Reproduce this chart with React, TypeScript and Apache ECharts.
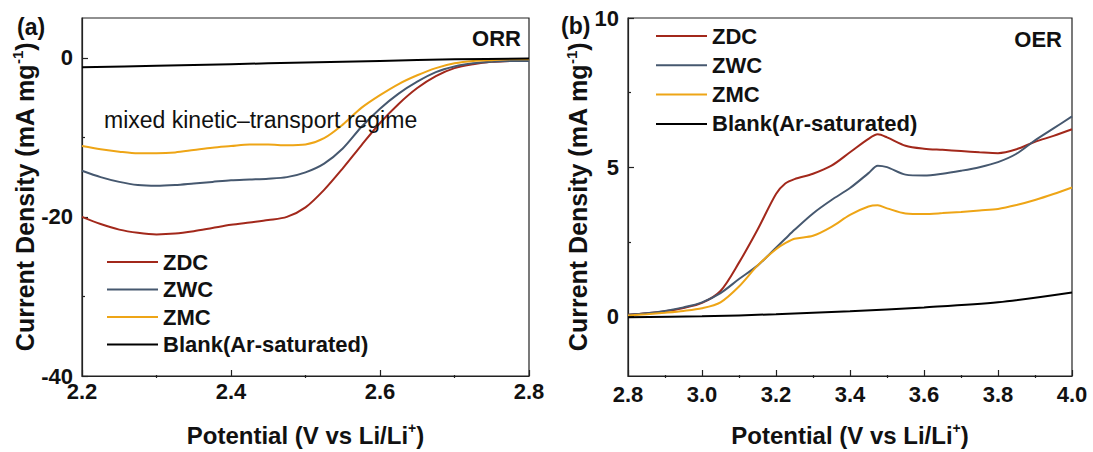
import React, { useEffect, useRef } from "react";
import * as echarts from "echarts";

// ---------- ORR panel (a) ----------
const orrPotential = [2.2, 2.225, 2.25, 2.275, 2.3, 2.325, 2.35, 2.375, 2.4, 2.425, 2.45, 2.475, 2.5, 2.525, 2.55, 2.575, 2.6, 2.625, 2.65, 2.675, 2.7, 2.725, 2.75, 2.775, 2.8];
const orrZDC = [-20.0, -20.9, -21.6, -22.0, -22.2, -22.1, -21.8, -21.4, -21.0, -20.7, -20.4, -20.0, -18.8, -16.6, -13.9, -11.0, -8.2, -5.8, -3.8, -2.3, -1.3, -0.8, -0.5, -0.4, -0.3];
const orrZWC = [-14.2, -15.0, -15.6, -16.0, -16.1, -16.0, -15.8, -15.6, -15.4, -15.3, -15.2, -15.0, -14.4, -13.3, -11.4, -8.7, -6.4, -4.5, -3.0, -1.8, -1.1, -0.7, -0.5, -0.4, -0.4];
const orrZMC = [-11.1, -11.5, -11.8, -12.0, -12.0, -11.9, -11.6, -11.3, -11.1, -10.9, -10.9, -11.0, -10.9, -10.1, -8.4, -6.3, -4.7, -3.3, -2.2, -1.3, -0.7, -0.4, -0.3, -0.2, -0.2];
const orrBlankPotential = [2.2, 2.3, 2.4, 2.5, 2.6, 2.7, 2.8];
const orrBlank = [-1.2, -1.0, -0.8, -0.6, -0.4, -0.2, -0.1];

const orrXLabels = [2.2, 2.4, 2.6, 2.8];
const orrXMinor = [2.3, 2.5, 2.7];
const orrYLabels = [-40, -20, 0];
const orrYMinor = [-30, -10];

// ---------- OER panel (b) ----------
const oerPotential = [2.8, 2.85, 2.9, 2.95, 3.0, 3.05, 3.1, 3.15, 3.2, 3.225, 3.25, 3.3, 3.35, 3.4, 3.45, 3.475, 3.5, 3.55, 3.6, 3.65, 3.7, 3.75, 3.8, 3.85, 3.9, 3.95, 4.0];
const oerZDC = [0.05, 0.1, 0.17, 0.28, 0.45, 0.85, 1.8, 2.9, 4.1, 4.45, 4.6, 4.78, 5.05, 5.5, 5.95, 6.1, 6.0, 5.72, 5.62, 5.58, 5.54, 5.5, 5.47, 5.6, 5.85, 6.05, 6.27];
const oerZWC = [0.05, 0.1, 0.18, 0.3, 0.47, 0.78, 1.25, 1.7, 2.3, 2.6, 2.9, 3.45, 3.9, 4.3, 4.8, 5.05, 5.0, 4.75, 4.72, 4.78, 4.88, 5.0, 5.17, 5.45, 5.9, 6.3, 6.7];
const oerZMC = [0.03, 0.07, 0.12, 0.18, 0.27, 0.47, 1.0, 1.7, 2.25, 2.45, 2.6, 2.7, 3.0, 3.4, 3.68, 3.72, 3.62, 3.45, 3.43, 3.46, 3.5, 3.55, 3.6, 3.73, 3.9, 4.1, 4.32];
const oerBlankPotential = [2.8, 3.0, 3.2, 3.4, 3.6, 3.8, 4.0];
const oerBlank = [-0.03, 0.0, 0.07, 0.17, 0.3, 0.47, 0.8];

const oerXLabels = [2.8, 3.0, 3.2, 3.4, 3.6, 3.8, 4.0];
const oerXMinor = [2.9, 3.1, 3.3, 3.5, 3.7, 3.9];
const oerYLabels = [0, 5, 10];
const oerYMinor = [2.5, 7.5];

const seriesNames = ["ZDC", "ZWC", "ZMC", "Blank(Ar-saturated)"];
const seriesColors = ["#A2281B", "#46586F", "#EEA516", "#000000"];

const FONT = "'Liberation Sans', Arial, Helvetica, sans-serif";
const INK = "#111111";
const AXIS = "#222222";

const GRID_H = 360;
const GRID_A_W = 447;
const GRID_B_W = 444;

const pair = (xs: number[], ys: number[]) => xs.map((x, i) => [x, ys[i]]);

const xTitleRich = {
  t: { fontSize: 24, fontWeight: "bold", fontFamily: FONT, color: INK, lineHeight: 28 },
  s: { fontSize: 14, fontWeight: "bold", fontFamily: FONT, color: INK, lineHeight: 14, verticalAlign: "top" },
};
const yTitleRich = {
  t: { fontSize: 25, fontWeight: "bold", fontFamily: FONT, color: INK, lineHeight: 29 },
  s: { fontSize: 15, fontWeight: "bold", fontFamily: FONT, color: INK, lineHeight: 15, verticalAlign: "top" },
};

function mainX(grid: number, min: number, max: number, labels: number[], margin: number) {
  return {
    type: "value",
    gridIndex: grid,
    min,
    max,
    position: "bottom",
    name: "{t|Potential (V vs Li/Li}{s|+}{t|)}",
    nameLocation: "middle",
    nameGap: 45,
    nameTextStyle: { rich: xTitleRich },
    axisLine: { show: true, onZero: false, lineStyle: { color: AXIS, width: 1.2 } },
    axisTick: { show: true, inside: true, length: 6, customValues: labels, lineStyle: { color: AXIS, width: 1.2 } },
    axisLabel: {
      show: true,
      customValues: labels,
      margin,
      formatter: (v: number) => v.toFixed(1),
      fontSize: 22,
      fontWeight: "bold",
      fontFamily: FONT,
      color: INK,
    },
    splitLine: { show: false },
  };
}

// minor ticks: a second axis placed at "top" and pushed down onto the bottom edge
function minorX(grid: number, min: number, max: number, ticks: number[]) {
  return {
    type: "value",
    gridIndex: grid,
    min,
    max,
    position: "top",
    offset: -GRID_H,
    axisLine: { show: false, onZero: false },
    axisTick: { show: true, inside: false, length: 3, customValues: ticks, lineStyle: { color: AXIS, width: 1.2 } },
    axisLabel: { show: false },
    splitLine: { show: false },
  };
}

function mainY(grid: number, min: number, max: number, labels: number[], nameGap: number) {
  return {
    type: "value",
    gridIndex: grid,
    min,
    max,
    position: "left",
    name: "{t|Current Density (mA mg}{s|-1}{t|)}",
    nameLocation: "middle",
    nameGap,
    nameTextStyle: { rich: yTitleRich },
    axisLine: { show: true, onZero: false, lineStyle: { color: AXIS, width: 1.2 } },
    axisTick: { show: true, inside: true, length: 6, customValues: labels, lineStyle: { color: AXIS, width: 1.2 } },
    axisLabel: {
      show: true,
      customValues: labels,
      margin: 9,
      formatter: (v: number) => String(v),
      fontSize: 22,
      fontWeight: "bold",
      fontFamily: FONT,
      color: INK,
    },
    splitLine: { show: false },
  };
}

// minor ticks: a second axis placed at "right" and pulled onto the left edge
function minorY(grid: number, min: number, max: number, ticks: number[], width: number) {
  return {
    type: "value",
    gridIndex: grid,
    min,
    max,
    position: "right",
    offset: -width,
    axisLine: { show: false, onZero: false },
    axisTick: { show: true, inside: false, length: 3, customValues: ticks, lineStyle: { color: AXIS, width: 1.2 } },
    axisLabel: { show: false },
    splitLine: { show: false },
  };
}

function line(name: string, color: string, xi: number, yi: number, data: number[][]) {
  return {
    type: "line",
    name,
    xAxisIndex: xi,
    yAxisIndex: yi,
    data,
    smooth: 0.3,
    symbol: "none",
    lineStyle: { color, width: 2 },
    itemStyle: { color },
    z: 3,
  };
}

function legend(left: number, top: number, gap: number) {
  return {
    orient: "vertical",
    left,
    top,
    padding: 0,
    icon: "rect",
    itemWidth: 51,
    itemHeight: 2,
    itemGap: gap,
    data: seriesNames,
    selectedMode: false,
    textStyle: { fontSize: 22, fontWeight: "bold", fontFamily: FONT, color: INK, lineHeight: 22 },
  };
}

function textEl(text: string, x: number, y: number, size: number, weight: string, align: string) {
  return {
    type: "text",
    x,
    y,
    z: 10,
    style: { text, fontSize: size, fontWeight: weight, fontFamily: FONT, fill: INK, align, verticalAlign: "middle" },
  };
}

export default function App() {
  const ref = useRef<HTMLDivElement>(null);
  useEffect(() => {
    if (!ref.current) return;
    const chart = echarts.init(ref.current, undefined, { renderer: "svg" });
    const gridStyle = { show: true, borderColor: AXIS, borderWidth: 1.2, backgroundColor: "transparent", containLabel: false };
    chart.setOption({
      animation: false,
      backgroundColor: "#ffffff",
      grid: [
        { ...gridStyle, left: 82, top: 18, width: GRID_A_W, height: GRID_H },
        { ...gridStyle, left: 628, top: 18, width: GRID_B_W, height: GRID_H },
      ],
      xAxis: [
        mainX(0, 2.2, 2.8, orrXLabels, 4),
        minorX(0, 2.2, 2.8, orrXMinor),
        mainX(1, 2.8, 4.0, oerXLabels, 7),
        minorX(1, 2.8, 4.0, oerXMinor),
      ],
      yAxis: [
        mainY(0, -40, 5, orrYLabels, 42),
        minorY(0, -40, 5, orrYMinor, GRID_A_W),
        mainY(1, -2, 10, oerYLabels, 34),
        minorY(1, -2, 10, oerYMinor, GRID_B_W),
      ],
      legend: [legend(107, 251, 5.5), legend(656, 25, 7.3)],
      graphic: [
        textEl("(a)", 17, 27, 23, "bold", "left"),
        textEl("(b)", 561, 26, 23, "bold", "left"),
        textEl("ORR", 521, 38, 22, "bold", "right"),
        textEl("OER", 1062, 39, 22, "bold", "right"),
        textEl("mixed kinetic\u2013transport regime", 104, 120, 23, "normal", "left"),
      ],
      series: [
        line(seriesNames[0], seriesColors[0], 0, 0, pair(orrPotential, orrZDC)),
        line(seriesNames[1], seriesColors[1], 0, 0, pair(orrPotential, orrZWC)),
        line(seriesNames[2], seriesColors[2], 0, 0, pair(orrPotential, orrZMC)),
        line(seriesNames[3], seriesColors[3], 0, 0, pair(orrBlankPotential, orrBlank)),
        line(seriesNames[0], seriesColors[0], 2, 2, pair(oerPotential, oerZDC)),
        line(seriesNames[1], seriesColors[1], 2, 2, pair(oerPotential, oerZWC)),
        line(seriesNames[2], seriesColors[2], 2, 2, pair(oerPotential, oerZMC)),
        line(seriesNames[3], seriesColors[3], 2, 2, pair(oerBlankPotential, oerBlank)),
      ],
    });
    return () => chart.dispose();
  }, []);
  return (
    <div
      ref={ref}
      style={{ position: "fixed", left: 0, top: 0, width: 1093, height: 452, background: "#fff" }}
    />
  );
}
